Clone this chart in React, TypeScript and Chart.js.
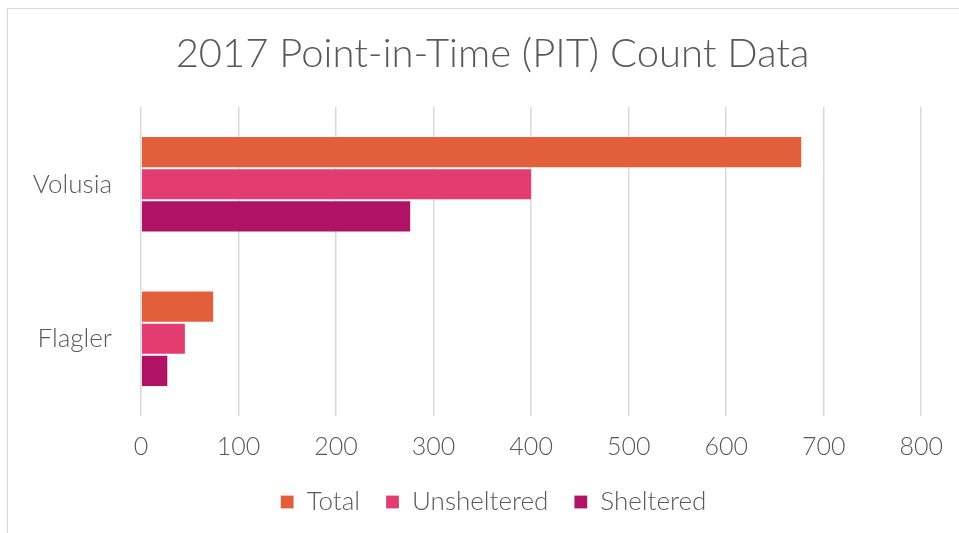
import React, { useEffect, useRef } from "react";
import { Chart, registerables } from "chart.js";

Chart.register(...registerables);

const categories = ["Volusia", "Flagler"];
const totalValues = [678, 75];
const unshelteredValues = [401, 46];
const shelteredValues = [277, 28];
const seriesNames = ["Total", "Unsheltered", "Sheltered"];
const xTicks = [0, 100, 200, 300, 400, 500, 600, 700, 800];
const titleText = "2017 Point-in-Time (PIT) Count Data";

const FONT = "Lato, 'DejaVu Sans', sans-serif";
const TEXT = "#595959";

// shift title and legend horizontally to sit where the reference has them
const shiftPlugin = {
  id: "shiftBlocks",
  afterLayout(chart: any) {
    if (chart.titleBlock) chart.titleBlock.left += 56;
    if (chart.legend) chart.legend.left += 58;
  },
};

export default function App() {
  const ref = useRef<HTMLCanvasElement | null>(null);
  useEffect(() => {
    if (!ref.current) return;
    const chart = new Chart(ref.current, {
      type: "bar",
      data: {
        labels: categories,
        datasets: [
          { label: seriesNames[0], data: totalValues, backgroundColor: "#E35F3C" },
          { label: seriesNames[1], data: unshelteredValues, backgroundColor: "#E23C70" },
          { label: seriesNames[2], data: shelteredValues, backgroundColor: "#B01265" },
        ].map((d) => ({
          ...d,
          borderColor: "rgba(255,255,255,0.2)",
          borderWidth: 1,
          barPercentage: 1,
          categoryPercentage: 0.623,
        })),
      },
      options: {
        indexAxis: "y",
        animation: false,
        responsive: false,
        devicePixelRatio: 1,
        layout: { padding: { left: 0, right: 30, top: 30, bottom: 8 } },
        plugins: {
          title: {
            display: true,
            text: titleText,
            color: TEXT,
            font: { family: FONT, size: 40, weight: 300 },
            padding: { top: 0, bottom: 29 },
          },
          legend: {
            position: "bottom",
            labels: {
              color: TEXT,
              font: { family: FONT, size: 26, weight: 300 },
              boxWidth: 13,
              boxHeight: 13,
              padding: 26,
            },
          },
          tooltip: { enabled: false },
        },
        scales: {
          x: {
            min: 0,
            max: 800,
            afterBuildTicks: (scale: any) => {
              scale.ticks = xTicks.map((v) => ({ value: v }));
            },
            afterFit: (scale: any) => {
              scale.height = 47;
            },
            grid: { color: "#D9D9D9", lineWidth: 1.5, tickLength: 0, drawTicks: false },
            border: { display: false },
            ticks: { color: TEXT, font: { family: FONT, size: 25, weight: 300 }, padding: 16 },
          },
          y: {
            afterFit: (scale: any) => {
              scale.width = 141;
            },
            grid: { display: false, drawTicks: false, tickLength: 0 },
            border: { display: false },
            ticks: { color: TEXT, font: { family: FONT, size: 26, weight: 300 }, padding: 29 },
          },
        },
      },
      plugins: [shiftPlugin],
    } as any);
    return () => chart.destroy();
  }, []);
  return (
    <div>
      <div
        style={{
          position: "fixed",
          left: 7,
          top: 8,
          width: 1000,
          height: 600,
          border: "1px solid #D9D9D9",
          background: "#fff",
        }}
      />
      <canvas
        ref={ref}
        width={959}
        height={533}
        style={{ position: "fixed", left: 0, top: 0, width: 959, height: 533 }}
      />
    </div>
  );
}
